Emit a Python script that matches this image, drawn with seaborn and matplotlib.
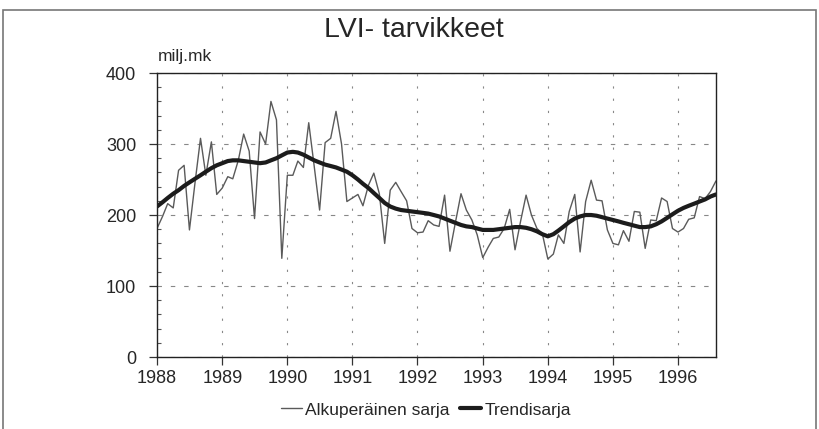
import pandas as pd
import matplotlib
matplotlib.use("Agg")
import matplotlib.pyplot as plt
from matplotlib.patches import Rectangle
from matplotlib.ticker import MultipleLocator
import seaborn as sns

# -------------------------------
# Data (milj.mk, monthly, Jan 1988 - Aug 1996)
# -------------------------------
START_MONTH = "1988-01"

original = [
    181, 198, 216, 210, 263, 270, 179, 245, 308, 256, 303, 229,   # 1988
    238, 254, 251, 277, 314, 290, 195, 317, 300, 360, 334, 139,   # 1989
    256, 256, 276, 267, 330, 268, 207, 302, 308, 346, 300, 219,   # 1990
    224, 229, 213, 242, 259, 230, 160, 235, 246, 233, 220, 181,   # 1991
    175, 176, 192, 186, 184, 228, 149, 190, 230, 207, 193, 172,   # 1992
    140, 155, 167, 169, 181, 208, 151, 191, 228, 200, 181, 174,   # 1993
    138, 145, 172, 160, 205, 229, 148, 219, 249, 221, 220, 179,   # 1994
    160, 158, 178, 163, 205, 204, 153, 193, 192, 224, 219, 181,   # 1995
    176, 181, 194, 196, 226, 223, 233, 248,                       # 1996
]

trend = [
    212, 218, 224, 230, 235, 241, 246, 251, 256, 261, 266, 270,
    273, 276, 277, 277, 276, 275, 274, 273, 274, 277, 280, 284,
    288, 289, 288, 285, 281, 277, 274, 271, 269, 267, 264, 261,
    256, 250, 244, 238, 231, 224, 217, 212, 209, 207, 206, 205,
    204, 203, 202, 200, 198, 195, 192, 189, 186, 184, 183, 181,
    179, 179, 179, 180, 181, 182, 183, 183, 182, 180, 177, 173,
    170, 173, 178, 184, 190, 195, 198, 200, 200, 199, 197, 195,
    193, 191, 189, 187, 185, 183, 183, 184, 187, 191, 196, 201,
    206, 210, 213, 216, 219, 222, 226, 229,
]

year_labels = [1988, 1989, 1990, 1991, 1992, 1993, 1994, 1995, 1996]
y_ticks = [0, 100, 200, 300, 400]

TITLE = "LVI- tarvikkeet"
UNIT = "milj.mk"
LABEL_ORIG = "Alkuperäinen sarja"
LABEL_TREND = "Trendisarja"

# -------------------------------
# Style
# -------------------------------
sns.set_theme(style="white")
plt.rcParams["font.family"] = ["Liberation Sans", "DejaVu Sans"]
plt.rcParams["axes.edgecolor"] = "#222222"
plt.rcParams["axes.linewidth"] = 1.0


def main():
    dates = pd.date_range(START_MONTH, periods=len(original), freq="MS")
    df = pd.DataFrame({"date": dates, LABEL_ORIG: original, LABEL_TREND: trend})

    fig = plt.figure(figsize=(8.19, 4.29), dpi=100)
    ax = fig.add_axes([0.1917, 0.1678, 0.6825, 0.662])

    sns.lineplot(data=df, x="date", y=LABEL_ORIG, ax=ax, color="#5a5a5a",
                 linewidth=1.0, label=LABEL_ORIG, legend=False)
    sns.lineplot(data=df, x="date", y=LABEL_TREND, ax=ax, color="#1c1c1c",
                 linewidth=3.0, label=LABEL_TREND, legend=False)

    # axes and ticks
    ax.set_xlim(dates[0], dates[-1])
    ax.set_ylim(y_ticks[0], y_ticks[-1])
    year_pos = [pd.Timestamp(f"{y}-01-01") for y in year_labels]
    ax.set_xticks(year_pos)
    ax.set_xticklabels([str(y) for y in year_labels])
    ax.set_yticks(y_ticks)
    ax.yaxis.set_minor_locator(MultipleLocator(20))
    ax.tick_params(axis="both", which="major", direction="out", length=6,
                   width=0.9, color="#333333", labelsize=13, pad=3,
                   bottom=True, left=True)
    ax.tick_params(axis="y", which="major", pad=9)
    ax.tick_params(axis="y", which="minor", direction="in", length=3,
                   width=0.8, color="#555555", left=True)
    ax.set_xlabel("")
    ax.set_ylabel("")

    # dashed grid
    ax.grid(axis="y", which="major", linestyle=(0, (4, 8)), color="#888888", linewidth=0.8)
    ax.grid(axis="x", which="major", linestyle=(0, (2, 9)), color="#888888", linewidth=0.8)
    ax.set_axisbelow(True)

    # texts
    fig.text(0.505, 1 - 30 / 429, TITLE, ha="center", va="center", fontsize=20.5)
    fig.text(158 / 819, 1 - 57 / 429, UNIT, ha="left", va="center", fontsize=12.5)

    # legend
    handles, labels = ax.get_legend_handles_labels()
    fig.legend(handles, labels, loc="center", bbox_to_anchor=(0.52, 1 - 410 / 429),
               ncol=2, frameon=False, fontsize=12.5, handlelength=1.2,
               handletextpad=0.2, columnspacing=0.6)

    # outer frame
    fig.patches.append(Rectangle((0.004, -0.05), 0.992, 1.027, transform=fig.transFigure,
                                 fill=False, edgecolor="#777777", linewidth=1.2))

    fig.savefig("out.png", dpi=100)
    plt.close(fig)


if __name__ == "__main__":
    main()
